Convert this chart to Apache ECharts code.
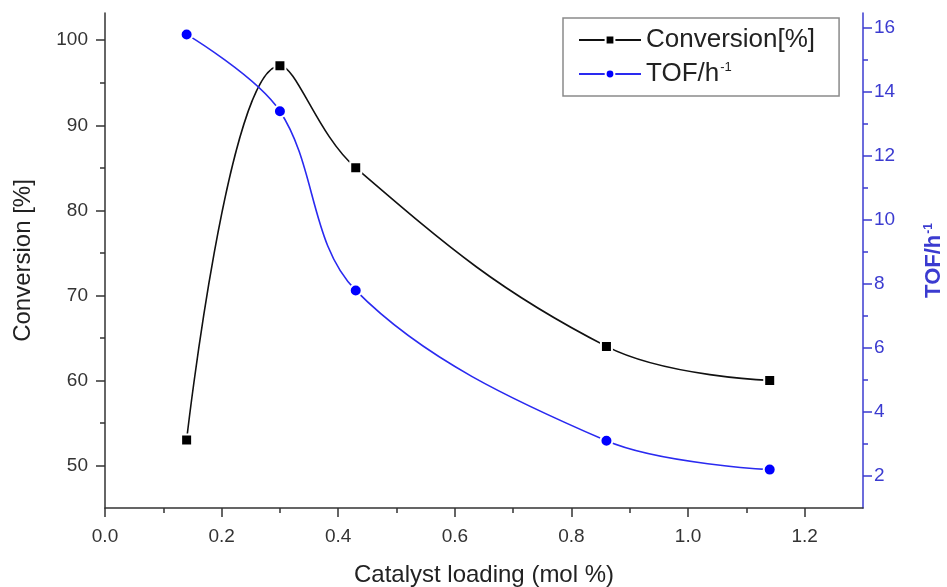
<!DOCTYPE html>
<html>
<head>
<meta charset="utf-8">
<script src="https://cdn.jsdelivr.net/npm/echarts@6/dist/echarts.min.js"></script>
<style>
  html, body { margin: 0; padding: 0; background: #fff; }
  #chart { width: 947px; height: 587px; }
</style>
</head>
<body>
<div id="chart"></div>
<script>
// Catalyst loading (mol %) and measured response
const loading = [0.14, 0.30, 0.43, 0.86, 1.14];
const conversion = [53, 97, 85, 64, 60];
const tof = [15.8, 13.4, 7.8, 3.1, 2.2];

// Axis ticks
const xTicks = [0, 0.2, 0.4, 0.6, 0.8, 1.0, 1.2];
const convTicks = [50, 60, 70, 80, 90, 100];
const tofTicks = [2, 4, 6, 8, 10, 12, 14, 16];

const mids = arr => arr.slice(1).map((v, i) => (v + arr[i]) / 2);
const xMinor = mids(xTicks);
const convMinor = mids(convTicks);
const tofMinor = mids(tofTicks);

const FONT = '"Liberation Sans", Arial, sans-serif';
const AXIS_DARK = '#333';
const AXIS_BLUE = '#3b3bd0';

const chart = echarts.init(document.getElementById('chart'), null, { renderer: 'canvas' });

const majorTick = (vals, color) => ({ show: true, inside: false, length: 9, customValues: vals, lineStyle: { color, width: 1.5 } });
const minorTickAxis = (vals, color) => ({ show: true, inside: false, length: 5, customValues: vals, lineStyle: { color, width: 1.5 } });
const noLine = { show: false, onZero: false };

chart.setOption({
  animation: false,
  backgroundColor: '#fff',
  grid: { left: 105, right: 84, top: 13, bottom: 79, containLabel: false, outerBoundsMode: 'none' },
  legend: {
    orient: 'vertical',
    left: 563,
    top: 18,
    padding: [9, 24, 9, 15],
    itemGap: 8,
    itemWidth: 62,
    itemHeight: 11,
    borderColor: '#8a8a8a',
    borderWidth: 1.5,
    borderRadius: 0,
    backgroundColor: '#fff',
    textStyle: {
      fontFamily: FONT,
      fontSize: 26,
      color: '#222',
      rich: {
        a: { fontFamily: FONT, fontSize: 26, color: '#222' },
        s: { fontFamily: FONT, fontSize: 13, color: '#222', verticalAlign: 'top', padding: [0, 0, 10, 1] }
      }
    },
    formatter: name => name === 'TOF/h-1' ? '{a|TOF/h}{s|-1}' : name,
    data: ['Conversion[%]', 'TOF/h-1']
  },
  xAxis: [
    {
      type: 'value', position: 'bottom', min: 0, max: 1.3,
      name: 'Catalyst loading (mol %)', nameLocation: 'middle', nameGap: 55,
      nameTextStyle: { fontFamily: FONT, fontSize: 24, color: '#222' },
      axisLine: { show: true, onZero: false, lineStyle: { color: AXIS_DARK, width: 1.5 } },
      axisTick: majorTick(xTicks, AXIS_DARK),
      axisLabel: { customValues: xTicks, formatter: v => v.toFixed(1), fontFamily: FONT, fontSize: 19, color: '#333', margin: 19 },
      splitLine: { show: false }
    },
    {
      type: 'value', position: 'bottom', min: 0, max: 1.3,
      axisLine: noLine,
      axisTick: minorTickAxis(xMinor, AXIS_DARK),
      axisLabel: { show: false },
      splitLine: { show: false }
    }
  ],
  yAxis: [
    {
      type: 'value', position: 'left', min: 45, max: 103.2,
      name: 'Conversion [%]', nameLocation: 'middle', nameGap: 70, nameRotate: 90,
      nameTextStyle: { fontFamily: FONT, fontSize: 24, color: '#222' },
      axisLine: { show: true, onZero: false, lineStyle: { color: AXIS_DARK, width: 1.5 } },
      axisTick: majorTick(convTicks, AXIS_DARK),
      axisLabel: { customValues: convTicks, fontFamily: FONT, fontSize: 19, color: '#333', margin: 17 },
      splitLine: { show: false }
    },
    {
      type: 'value', position: 'left', min: 45, max: 103.2,
      axisLine: noLine,
      axisTick: minorTickAxis(convMinor, AXIS_DARK),
      axisLabel: { show: false },
      splitLine: { show: false }
    },
    {
      type: 'value', position: 'right', min: 1, max: 16.47,
      name: '{a|TOF/h}{s|-1}', nameLocation: 'middle', nameGap: 60, nameRotate: 90,
      nameTextStyle: {
        fontFamily: FONT, fontSize: 22, fontWeight: 'bold', color: AXIS_BLUE,
        rich: {
          a: { fontFamily: FONT, fontSize: 22, fontWeight: 'bold', color: AXIS_BLUE },
          s: { fontFamily: FONT, fontSize: 12, fontWeight: 'bold', color: AXIS_BLUE, verticalAlign: 'top', padding: [0, 0, 10, 1] }
        }
      },
      axisLine: { show: true, onZero: false, lineStyle: { color: AXIS_BLUE, width: 1.5 } },
      axisTick: majorTick(tofTicks, AXIS_BLUE),
      axisLabel: { customValues: tofTicks, fontFamily: FONT, fontSize: 19, color: AXIS_BLUE, margin: 11 },
      splitLine: { show: false }
    },
    {
      type: 'value', position: 'right', min: 1, max: 16.47,
      axisLine: noLine,
      axisTick: minorTickAxis(tofMinor, AXIS_BLUE),
      axisLabel: { show: false },
      splitLine: { show: false }
    }
  ],
  series: [
    {
      name: 'Conversion[%]',
      type: 'line',
      xAxisIndex: 0,
      yAxisIndex: 0,
      data: loading.map((x, i) => [x, conversion[i]]),
      smooth: 0.4,
      symbol: 'rect',
      symbolSize: 11,
      itemStyle: { color: '#000', borderColor: '#fff', borderWidth: 2 },
      lineStyle: { color: '#111', width: 1.6 },
      z: 3
    },
    {
      name: 'TOF/h-1',
      type: 'line',
      xAxisIndex: 0,
      yAxisIndex: 2,
      data: loading.map((x, i) => [x, tof[i]]),
      smooth: 0.35,
      symbol: 'circle',
      symbolSize: 12,
      itemStyle: { color: '#0000ff', borderColor: '#fff', borderWidth: 2 },
      lineStyle: { color: '#2a2af0', width: 1.6 },
      z: 4
    }
  ]
});
</script>
</body>
</html>
